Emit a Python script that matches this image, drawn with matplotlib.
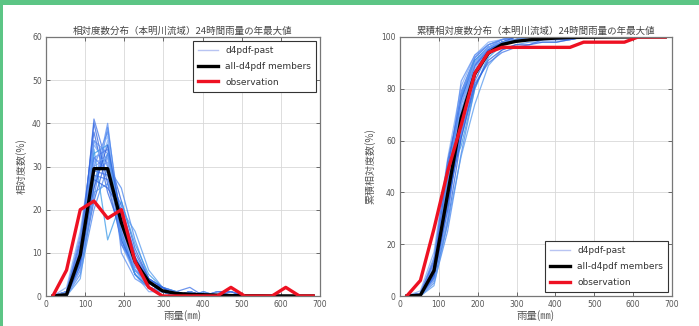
import numpy as np
import matplotlib
matplotlib.use("Agg")
import matplotlib.pyplot as plt
from matplotlib.patches import Rectangle

plt.rcParams['font.family'] = ['Noto Sans CJK JP', 'DejaVu Sans']

# bin centres of 24-hour rainfall (mm)
rain_bins = [17.5, 52.5, 87.5, 122.5, 157.5, 192.5, 227.5, 262.5, 297.5, 332.5,
             367.5, 402.5, 437.5, 472.5, 507.5, 542.5, 577.5, 612.5, 647.5, 682.5]

# relative frequency (%) of annual maximum 24h rainfall, d4pdf past members
d4pdf_past = [
    [0, 0, 8, 41, 30, 13, 5, 2, 1, 0, 0, 0, 0, 0, 0, 0, 0, 0, 0, 0],
    [0, 1, 12, 25, 40, 14, 5, 2, 1, 0, 0, 0, 0, 0, 0, 0, 0, 0, 0, 0],
    [0, 0, 6, 22, 33, 22, 11, 4, 2, 0, 0, 0, 0, 0, 0, 0, 0, 0, 0, 0],
    [0, 2, 15, 36, 28, 12, 5, 1, 1, 0, 0, 0, 0, 0, 0, 0, 0, 0, 0, 0],
    [0, 0, 5, 20, 30, 25, 13, 4, 2, 0, 1, 0, 0, 0, 0, 0, 0, 0, 0, 0],
    [0, 1, 10, 34, 13, 22, 12, 5, 2, 1, 0, 0, 0, 0, 0, 0, 0, 0, 0, 0],
    [0, 0, 9, 30, 32, 18, 7, 2, 1, 0, 1, 0, 0, 0, 0, 0, 0, 0, 0, 0],
    [0, 0, 7, 26, 36, 16, 9, 3, 2, 1, 0, 0, 0, 0, 0, 0, 0, 0, 0, 0],
    [0, 1, 13, 38, 24, 15, 5, 2, 1, 0, 0, 1, 0, 0, 0, 0, 0, 0, 0, 0],
    [0, 0, 4, 24, 26, 20, 15, 6, 2, 1, 0, 0, 1, 1, 0, 0, 0, 0, 0, 0],
    [0, 0, 11, 32, 34, 12, 7, 3, 1, 0, 0, 0, 0, 0, 0, 0, 0, 0, 0, 0],
    [0, 0, 8, 28, 27, 19, 8, 4, 2, 1, 2, 0, 0, 1, 0, 0, 0, 0, 0, 0],
    [0, 1, 14, 30, 38, 10, 4, 2, 1, 0, 0, 0, 0, 0, 0, 0, 0, 0, 0, 0],
    [0, 0, 9, 27, 25, 20, 10, 4, 2, 0, 1, 0, 1, 1, 0, 0, 0, 0, 0, 0],
    [0, 0, 10, 35, 30, 14, 6, 3, 1, 1, 0, 0, 0, 0, 0, 0, 0, 0, 0, 0],
    [0, 0, 7, 23, 39, 17, 8, 3, 2, 0, 1, 0, 0, 0, 0, 0, 0, 0, 0, 0],
    [0, 0, 9, 33, 35, 14, 5, 2, 1, 0, 1, 0, 0, 0, 0, 0, 0, 0, 0, 0],
    [0, 1, 11, 29, 31, 16, 7, 3, 1, 0, 0, 0, 1, 0, 0, 0, 0, 0, 0, 0],
    [0, 0, 6, 31, 37, 15, 7, 2, 1, 1, 0, 0, 0, 0, 0, 0, 0, 0, 0, 0],
    [0, 0, 10, 40, 26, 13, 6, 3, 1, 0, 1, 0, 0, 0, 0, 0, 0, 0, 0, 0],
    [0, 0, 8, 27, 33, 19, 8, 3, 1, 0, 0, 1, 0, 0, 0, 0, 0, 0, 0, 0],
    [0, 1, 12, 32, 29, 15, 6, 3, 1, 0, 0, 0, 0, 1, 0, 0, 0, 0, 0, 0],
    [0, 0, 7, 29, 28, 21, 9, 4, 1, 0, 1, 0, 0, 0, 0, 0, 0, 0, 0, 0],
    [0, 0, 9, 36, 33, 12, 6, 2, 1, 1, 0, 0, 0, 0, 0, 0, 0, 0, 0, 0],
    [0, 0, 8, 25, 35, 18, 9, 3, 2, 0, 0, 0, 0, 0, 0, 0, 0, 0, 0, 0],
    [0, 1, 10, 31, 32, 16, 6, 2, 1, 0, 1, 0, 0, 0, 0, 0, 0, 0, 0, 0],
]

# all d4pdf members combined
all_members = [0, 0.3, 9.5, 29.5, 29.5, 17, 8, 3.3, 1.2, 0.6,
               0.4, 0.3, 0.2, 0.1, 0.05, 0.05, 0.02, 0.02, 0.01, 0.01]

# observed record
observation = [0, 6, 20, 22, 18, 20, 8, 2, 0, 0,
               0, 0, 0, 2, 0, 0, 0, 2, 0, 0]

fig = plt.figure(figsize=(6.99, 3.26), dpi=100)
fig.patch.set_facecolor('white')

# green frame around the figure
fig.add_artist(Rectangle((0, 1 - 5 / 326), 1, 5 / 326, transform=fig.transFigure,
                         facecolor='#5cc585', edgecolor='none'))
fig.add_artist(Rectangle((0, 0), 3 / 699, 1, transform=fig.transFigure,
                         facecolor='#5cc585', edgecolor='none'))

ax1 = fig.add_axes([46 / 699, 30 / 326, 274 / 699, 259 / 326])
ax2 = fig.add_axes([400 / 699, 30 / 326, 272 / 699, 259 / 326])

# shades of blue cycled over the ensemble members
blue_shades = ['#3f73e8', '#5b8ef0', '#2d5fdc', '#7aa8f5', '#4a86ee',
               '#3b9ae8', '#6c96f0', '#8ab4f6', '#3366e0', '#5599ee', '#4f7cf0']


def style_axes(ax, ymax, ystep):
    ax.set_xlim(0, 700)
    ax.set_ylim(0, ymax)
    ax.set_xticks(np.arange(0, 701, 100))
    ax.set_yticks(np.arange(0, ymax + 1, ystep))
    ax.grid(True, color='#d8d8d8', lw=0.6)
    ax.set_axisbelow(True)
    ax.tick_params(direction='in', length=3, width=0.6, colors='#555555',
                   top=True, right=True, pad=3, labelsize=5.5)
    for lab in ax.get_xticklabels() + ax.get_yticklabels():
        lab.set_family('DejaVu Sans')
        lab.set_color('#555555')
    for sp in ax.spines.values():
        sp.set_color('#777777')
        sp.set_linewidth(0.9)
    ax.set_xlabel('雨量(㎜)', fontsize=7.5, color='#555555', labelpad=1)


def draw(ax, transform):
    for i, m in enumerate(d4pdf_past):
        ax.plot(rain_bins, transform(m), color=blue_shades[i % len(blue_shades)],
                lw=0.9, alpha=0.75, label='d4pdf-past' if i == 0 else None)
    ax.plot(rain_bins, transform(all_members), color='black', lw=2.4,
            label='all-d4pdf members')
    ax.plot(rain_bins, transform(observation), color='#ee1122', lw=2.4,
            label='observation')


draw(ax1, lambda v: np.asarray(v, dtype=float))
style_axes(ax1, 60, 10)
ax1.set_title('相対度数分布（本明川流域）24時間雨量の年最大値', fontsize=6.8,
              color='#444444', pad=2)
ax1.set_ylabel('相対度数(%)', fontsize=7.2, color='#555555', labelpad=4)

draw(ax2, lambda v: np.cumsum(v))
style_axes(ax2, 100, 20)
ax2.set_title('累積相対度数分布（本明川流域）24時間雨量の年最大値', fontsize=6.8,
              color='#444444', pad=2)
ax2.set_ylabel('累積相対度数(%)', fontsize=7.2, color='#555555', labelpad=4)

for ax, loc in ((ax1, 'upper right'), (ax2, 'lower right')):
    leg = ax.legend(loc=loc, fontsize=6.5, fancybox=False, framealpha=1,
                    edgecolor='#333333', handlelength=2.2, borderpad=0.6,
                    labelspacing=0.75, borderaxespad=0.4)
    leg.get_frame().set_linewidth(0.8)
    for t in leg.get_texts():
        t.set_family('DejaVu Sans')
        t.set_color('#333333')
    leg.get_lines()[0].set_color('#b8c4f2')
    leg.get_lines()[0].set_linewidth(1.0)
    leg.get_lines()[0].set_alpha(1.0)

fig.savefig('out.png', dpi=100, facecolor='white')
